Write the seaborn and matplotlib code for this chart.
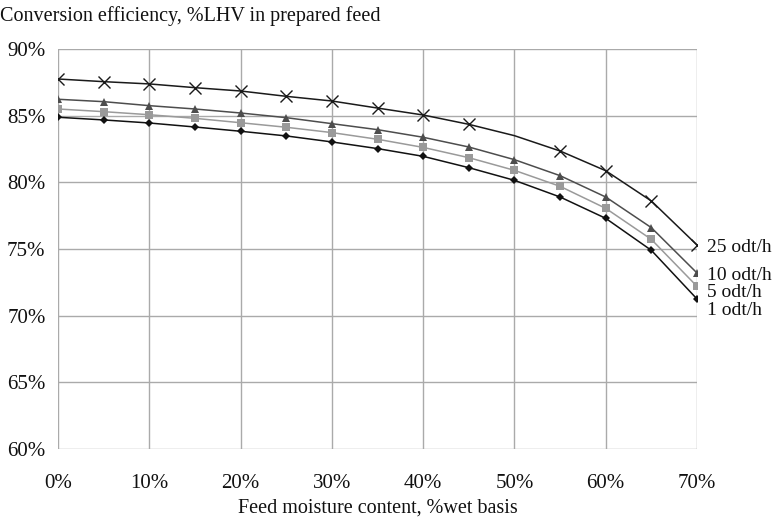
import matplotlib
matplotlib.use("Agg")
import matplotlib.pyplot as plt
import seaborn as sns
import pandas as pd
from matplotlib.ticker import PercentFormatter

# Feed moisture content, % wet basis
moisture = [0, 5, 10, 15, 20, 25, 30, 35, 40, 45, 50, 55, 60, 65, 70]

# Conversion efficiency (% LHV in prepared feed) by plant throughput
eff_25 = [87.75, 87.55, 87.38, 87.1, 86.85, 86.45, 86.1, 85.57, 85.05, 84.35, 83.5, 82.35, 80.87, 78.6, 75.3]
eff_10 = [86.23, 86.05, 85.75, 85.5, 85.2, 84.85, 84.4, 83.95, 83.38, 82.65, 81.7, 80.5, 78.9, 76.6, 73.2]
eff_5 = [85.5, 85.3, 85.07, 84.8, 84.47, 84.13, 83.73, 83.23, 82.62, 81.85, 80.9, 79.7, 78.05, 75.72, 72.2]
eff_1 = [84.88, 84.68, 84.45, 84.15, 83.83, 83.48, 83.03, 82.53, 81.95, 81.1, 80.15, 78.9, 77.3, 74.9, 71.25]

series_names = ["25 odt/h", "10 odt/h", "5 odt/h", "1 odt/h"]
x_ticks = [0, 10, 20, 30, 40, 50, 60, 70]
y_ticks = [60, 65, 70, 75, 80, 85, 90]

sns.set_theme(style="white")
plt.rcParams["font.family"] = ["Liberation Serif", "DejaVu Serif"]
plt.rcParams["font.size"] = 14.5

fig = plt.figure(figsize=(7.78, 5.24), dpi=100)
ax = fig.add_axes([0.0746, 0.1431, 0.8213, 0.7634])

styles = {
    "25 odt/h": dict(color="#1a1a1a", marker="x", ms=9, mew=1.0, lw=1.1,
                     markevery=[i for i in range(len(moisture)) if moisture[i] != 50]),
    "10 odt/h": dict(color="#4d4d4d", marker="^", ms=5.5, mew=0, lw=1.1),
    "5 odt/h": dict(color="#9a9a9a", marker="s", ms=5.5, mew=0, lw=1.1),
    "1 odt/h": dict(color="#111111", marker="D", ms=4, mew=0, lw=1.1),
}

for name, vals in zip(series_names, [eff_25, eff_10, eff_5, eff_1]):
    df = pd.DataFrame({"moisture": moisture, "eff": vals})
    st = styles[name]
    sns.lineplot(data=df, x="moisture", y="eff", ax=ax, color=st["color"],
                 linewidth=st["lw"], marker=st["marker"], markersize=st["ms"],
                 markeredgewidth=st["mew"], markeredgecolor=st["color"],
                 markevery=st.get("markevery"))

ax.set_xlim(0, 70)
ax.set_ylim(60, 90)
ax.set_xticks(x_ticks)
ax.set_yticks(y_ticks)
ax.xaxis.set_major_formatter(PercentFormatter(decimals=0))
ax.yaxis.set_major_formatter(PercentFormatter(decimals=0))
ax.grid(True, color="#aaaaaa", linewidth=1.0)
for s in ax.spines.values():
    s.set_visible(False)
ax.tick_params(axis="both", which="major", direction="out", length=5,
               width=1.0, color="#aaaaaa", labelsize=15, labelcolor="#111111")
ax.tick_params(axis="x", pad=13)
ax.tick_params(axis="y", pad=4)
ax.set_xlabel("Feed moisture content, %wet basis", fontsize=14.5, labelpad=4, color="#111111")
ax.set_ylabel("")

# Series labels at the right-hand end of each curve
label_y = {"25 odt/h": 75.15, "10 odt/h": 73.05, "5 odt/h": 71.75, "1 odt/h": 70.4}
for name in series_names:
    ax.text(71.1, label_y[name], name, fontsize=14, va="center", ha="left",
            color="#111111", clip_on=False)

fig.text(0.0, 0.97, "Conversion efficiency, %LHV in prepared feed",
         fontsize=14.5, ha="left", va="center", color="#111111")

fig.savefig("out.png", dpi=100)
